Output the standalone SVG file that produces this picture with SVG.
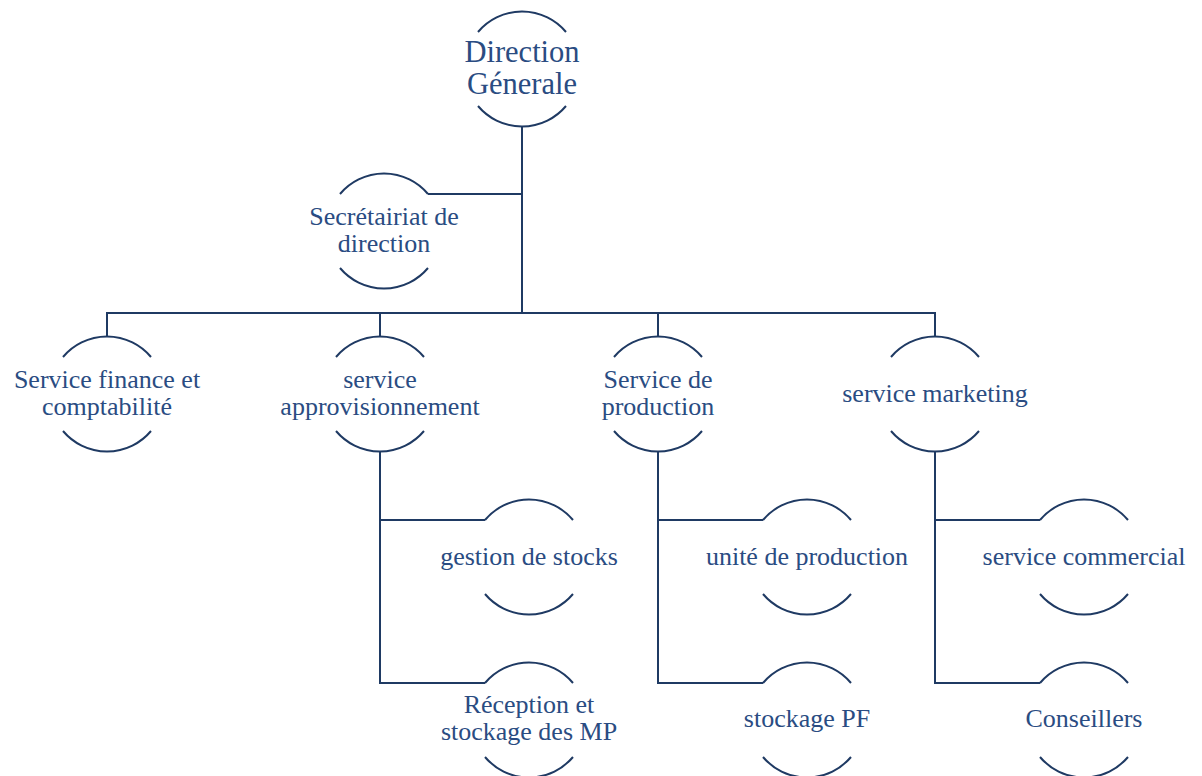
<svg xmlns="http://www.w3.org/2000/svg" width="1202" height="776" viewBox="0 0 1202 776">
  <style>
    .arc { fill: none; stroke: #1F3A63; stroke-width: 2; }
    .link { fill: none; stroke: #1F3A63; stroke-width: 2; }
    .lbl { font-family: "Liberation Serif", "Times New Roman", serif; font-size: 26px; fill: #2A4C82; text-anchor: middle; }
    .title { font-size: 30.5px; }
  </style>
  <defs>
    <!-- open circle: only the top and bottom arcs are drawn, centred on (0,0) -->
    <path id="shell" d="M -44 -37 A 57.5 57.5 0 0 1 44 -37 M -44 37 A 57.5 57.5 0 0 0 44 37"/>
  </defs>

  <g id="connectors">
    <path class="link" d="M 522 126 V 313"/>
    <path class="link" d="M 428 194 H 522"/>
    <path class="link" d="M 107 336 V 313 H 935 V 336"/>
    <path class="link" d="M 380 313 V 336"/>
    <path class="link" d="M 658 313 V 336"/>
    <path class="link" d="M 380 452 V 683 H 485 M 380 520 H 485"/>
    <path class="link" d="M 658 452 V 683 H 763 M 658 520 H 763"/>
    <path class="link" d="M 935 452 V 683 H 1040 M 935 520 H 1040"/>
  </g>

  <g id="direction-generale">
    <use href="#shell" class="arc" transform="translate(522 69)"/>
    <text class="lbl title" x="522" y="62">Direction</text>
    <text class="lbl title" x="522" y="94">Génerale</text>
  </g>

  <g id="secretariat">
    <use href="#shell" class="arc" transform="translate(384 231)"/>
    <text class="lbl" x="384" y="225">Secrétairiat de</text>
    <text class="lbl" x="384" y="252">direction</text>
  </g>

  <g id="finance">
    <use href="#shell" class="arc" transform="translate(107 394)"/>
    <text class="lbl" x="107" y="388">Service finance et</text>
    <text class="lbl" x="107" y="415">comptabilité</text>
  </g>

  <g id="approvisionnement">
    <use href="#shell" class="arc" transform="translate(380 394)"/>
    <text class="lbl" x="380" y="388">service</text>
    <text class="lbl" x="380" y="415">approvisionnement</text>
  </g>

  <g id="production">
    <use href="#shell" class="arc" transform="translate(658 394)"/>
    <text class="lbl" x="658" y="388">Service de</text>
    <text class="lbl" x="658" y="415">production</text>
  </g>

  <g id="marketing">
    <use href="#shell" class="arc" transform="translate(935 394)"/>
    <text class="lbl" x="935" y="402">service marketing</text>
  </g>

  <g id="gestion-stocks">
    <use href="#shell" class="arc" transform="translate(529 557)"/>
    <text class="lbl" x="529" y="565">gestion de stocks</text>
  </g>

  <g id="reception-mp">
    <use href="#shell" class="arc" transform="translate(529 720)"/>
    <text class="lbl" x="529" y="713">Réception et</text>
    <text class="lbl" x="529" y="740">stockage des MP</text>
  </g>

  <g id="unite-production">
    <use href="#shell" class="arc" transform="translate(807 557)"/>
    <text class="lbl" x="807" y="565">unité de production</text>
  </g>

  <g id="stockage-pf">
    <use href="#shell" class="arc" transform="translate(807 720)"/>
    <text class="lbl" x="807" y="727">stockage PF</text>
  </g>

  <g id="service-commercial">
    <use href="#shell" class="arc" transform="translate(1084 557)"/>
    <text class="lbl" x="1084" y="565">service commercial</text>
  </g>

  <g id="conseillers">
    <use href="#shell" class="arc" transform="translate(1084 720)"/>
    <text class="lbl" x="1084" y="727">Conseillers</text>
  </g>
</svg>
